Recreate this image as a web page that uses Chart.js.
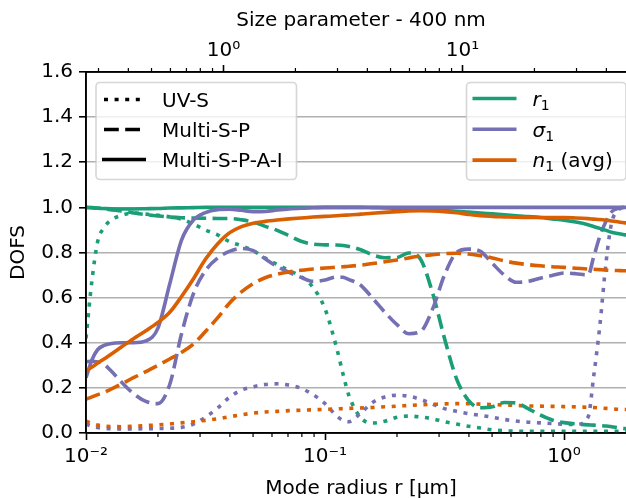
<!DOCTYPE html>
<html>
<head>
<meta charset="utf-8">
<script src="https://cdn.jsdelivr.net/npm/chart.js@4.4.1/dist/chart.umd.min.js"></script>
<style>
html,body{margin:0;padding:0;overflow:hidden;background:#fff;width:626px;height:498px}
#wrap{width:626px;height:498px;overflow:hidden;position:relative}
canvas{display:block}
</style>
</head>
<body>
<div id="wrap"><canvas id="c" width="636" height="498"></canvas></div>
<script>
// ---- data ----
const radius = [0.01,0.0106,0.0112,0.0119,0.0126,0.0141,0.0158,0.0178,0.02,0.0224,
  0.0251,0.0282,0.0316,0.0355,0.0398,0.0447,0.0501,0.0562,0.0631,0.0708,
  0.0794,0.0891,0.1,0.112,0.119,0.126,0.141,0.158,0.178,0.2,
  0.224,0.251,0.282,0.316,0.355,0.398,0.447,0.501,0.562,0.631,
  0.708,0.794,0.891,1.0,1.12,1.26,1.33,1.41,1.5,1.58,
  1.68,1.78,1.82];

// UV-S (dotted)
const uvR1 = [0.42,0.68,0.85,0.91,0.94,0.965,0.975,0.97,0.965,0.958,
  0.948,0.925,0.9,0.878,0.848,0.83,0.808,0.775,0.747,0.72,
  0.693,0.645,0.55,0.375,0.26,0.165,0.068,0.044,0.052,0.07,
  0.075,0.071,0.063,0.05,0.04,0.03,0.022,0.014,0.01,0.008,
  0.007,0.007,0.007,0.007,0.007,0.008,0.008,0.008,0.008,0.008,
  0.008,0.008,0.008];
const uvSig = [0.04,0.03,0.024,0.021,0.019,0.018,0.018,0.019,0.02,0.021,
  0.025,0.04,0.07,0.11,0.158,0.19,0.205,0.215,0.218,0.212,
  0.198,0.17,0.13,0.075,0.056,0.05,0.088,0.135,0.16,0.167,
  0.163,0.149,0.128,0.108,0.096,0.086,0.078,0.07,0.06,0.053,
  0.048,0.045,0.042,0.039,0.038,0.07,0.25,0.47,0.76,0.93,
  0.985,1.0,1.0];
const uvN = [0.052,0.042,0.035,0.031,0.029,0.028,0.03,0.033,0.036,0.04,
  0.045,0.05,0.056,0.063,0.072,0.081,0.088,0.093,0.096,0.099,
  0.101,0.103,0.105,0.107,0.108,0.109,0.111,0.113,0.116,0.119,
  0.122,0.125,0.127,0.129,0.13,0.13,0.128,0.126,0.124,0.122,
  0.12,0.119,0.118,0.117,0.116,0.114,0.113,0.111,0.109,0.107,
  0.105,0.104,0.104];

// Multi-S-P (dashed)
const mspR1 = [1.0,0.999,0.997,0.994,0.99,0.984,0.975,0.968,0.962,0.957,
  0.954,0.953,0.952,0.951,0.951,0.945,0.935,0.916,0.898,0.874,
  0.85,0.837,0.834,0.833,0.831,0.827,0.812,0.79,0.777,0.778,
  0.798,0.77,0.62,0.42,0.24,0.145,0.112,0.116,0.135,0.133,
  0.108,0.08,0.058,0.046,0.04,0.036,0.035,0.033,0.031,0.028,
  0.024,0.02,0.019];
const mspSig = [0.316,0.318,0.315,0.305,0.28,0.225,0.175,0.14,0.13,0.215,
  0.44,0.62,0.72,0.775,0.805,0.818,0.808,0.772,0.738,0.712,
  0.69,0.672,0.678,0.692,0.69,0.68,0.655,0.598,0.535,0.48,
  0.44,0.45,0.55,0.7,0.8,0.815,0.805,0.752,0.7,0.668,
  0.672,0.686,0.698,0.709,0.706,0.7,0.78,0.87,0.94,0.98,
  0.995,1.0,1.0];
const mspN = [0.15,0.16,0.17,0.18,0.192,0.218,0.245,0.272,0.3,0.328,
  0.357,0.395,0.45,0.51,0.575,0.625,0.662,0.688,0.704,0.714,
  0.721,0.727,0.731,0.735,0.737,0.739,0.744,0.751,0.759,0.767,
  0.776,0.784,0.79,0.795,0.797,0.793,0.786,0.776,0.763,0.753,
  0.746,0.741,0.737,0.734,0.73,0.727,0.726,0.724,0.722,0.721,
  0.72,0.719,0.719];

// Multi-S-P-A-I (solid)
const allR1 = [1.0,0.998,0.996,0.995,0.994,0.993,0.993,0.994,0.995,0.997,
  0.998,0.999,1.0,1.0,1.0,1.0,1.0,1.0,1.0,1.0,
  1.0,1.0,1.0,1.0,1.0,1.0,1.0,0.999,0.998,0.996,
  0.994,0.992,0.989,0.986,0.983,0.979,0.975,0.971,0.967,0.963,
  0.959,0.955,0.949,0.943,0.935,0.923,0.915,0.907,0.898,0.89,
  0.884,0.879,0.878];
const allSig = [0.245,0.325,0.37,0.388,0.396,0.4,0.4,0.408,0.465,0.66,
  0.855,0.945,0.977,0.99,0.992,0.987,0.981,0.982,0.988,0.993,
  0.996,0.998,1.0,1.0,1.0,1.0,1.0,1.0,1.0,1.0,
  1.0,1.0,1.0,1.0,1.0,1.0,1.0,1.0,1.0,1.0,
  1.0,1.0,1.0,1.0,1.0,1.0,1.0,1.0,1.0,1.0,
  1.0,1.0,1.0];
const allN = [0.275,0.292,0.31,0.328,0.346,0.382,0.418,0.453,0.49,0.535,
  0.605,0.685,0.77,0.838,0.887,0.915,0.93,0.938,0.944,0.949,
  0.953,0.957,0.96,0.963,0.965,0.966,0.97,0.974,0.978,0.981,
  0.984,0.985,0.984,0.981,0.976,0.969,0.963,0.96,0.958,0.956,
  0.955,0.955,0.955,0.955,0.953,0.95,0.948,0.946,0.943,0.94,
  0.936,0.932,0.931];

// axes
const xMajorTicks = [0.01, 0.1, 1];
const xTickLabels = ['10\u207B\u00B2', '10\u207B\u00B9', '10\u2070'];
const xMinorTicks = [0.02,0.03,0.04,0.05,0.06,0.07,0.08,0.09,0.2,0.3,0.4,0.5,0.6,0.7,0.8,0.9];
const topMajorTicks = [1, 10];
const topTickLabels = ['10\u2070', '10\u00B9'];
const topMinorTicks = [0.3,0.4,0.5,0.6,0.7,0.8,0.9,2,3,4,5,6,7,8,9,20,30,40,50];
const sizeParamPerRadius = 26.6;   // top axis factor (size parameter per µm)
const methodLabels = ['UV-S', 'Multi-S-P', 'Multi-S-P-A-I'];

// ---- styles ----
const GREEN = '#1b9e77', PURPLE = '#7570b3', ORANGE = '#d95f02';
const LW = 3.6;
const DOT = [4, 6.6], DASH = [14.8, 6.4], SOLID = [];
const FONT = '"DejaVu Sans", sans-serif';
Chart.defaults.font.family = FONT;
Chart.defaults.color = '#000';

const defs = [
  {label: 'r\u2081 UV-S', data: uvR1, color: GREEN, dash: DOT},
  {label: '\u03C3\u2081 UV-S', data: uvSig, color: PURPLE, dash: DOT},
  {label: 'n\u2081 (avg) UV-S', data: uvN, color: ORANGE, dash: DOT},
  {label: 'r\u2081 Multi-S-P', data: mspR1, color: GREEN, dash: DASH},
  {label: '\u03C3\u2081 Multi-S-P', data: mspSig, color: PURPLE, dash: DASH},
  {label: 'n\u2081 (avg) Multi-S-P', data: mspN, color: ORANGE, dash: DASH},
  {label: 'r\u2081 Multi-S-P-A-I', data: allR1, color: GREEN, dash: SOLID},
  {label: '\u03C3\u2081 Multi-S-P-A-I', data: allSig, color: PURPLE, dash: SOLID},
  {label: 'n\u2081 (avg) Multi-S-P-A-I', data: allN, color: ORANGE, dash: SOLID}
];

function makeTicks(major, minor) {
  return major.map(v => ({value: v, major: true}))
    .concat(minor.map(v => ({value: v, major: false})))
    .sort((a, b) => a.value - b.value);
}
function labelFrom(majors, labels) {
  return (v, i, t) => {
    if (!t[i] || !t[i].major) return '';
    const k = majors.findIndex(m => Math.abs(m - v) < 1e-9 * Math.max(1, m));
    return k >= 0 ? labels[k] : '';
  };
}
const tickColorFn = c => (c.tick && c.tick.major) ? '#000' : 'rgba(0,0,0,0)';

// minor ticks + spines above data
const axisPlugin = {
  id: 'axisPlugin',
  afterDatasetsDraw(chart) {
    const ctx = chart.ctx, a = chart.chartArea;
    ctx.save();
    ctx.strokeStyle = '#000';
    ctx.lineWidth = 1.2;
    const xs = chart.scales.x, xt = chart.scales.xTop;
    ctx.beginPath();
    xMinorTicks.forEach(v => {
      const p = xs.getPixelForValue(v);
      if (p >= a.left && p <= a.right) { ctx.moveTo(p, a.bottom); ctx.lineTo(p, a.bottom + 4); }
    });
    topMinorTicks.forEach(v => {
      const p = xt.getPixelForValue(v);
      if (p >= a.left && p <= a.right) { ctx.moveTo(p, a.top); ctx.lineTo(p, a.top - 4); }
    });
    ctx.stroke();
    ctx.lineWidth = 1.6;
    ctx.beginPath();
    ctx.moveTo(a.left, a.top); ctx.lineTo(a.right, a.top);
    ctx.moveTo(a.left, a.bottom); ctx.lineTo(a.right, a.bottom);
    ctx.moveTo(a.left, a.top); ctx.lineTo(a.left, a.bottom);
    ctx.stroke();
    ctx.restore();
  }
};

function richText(ctx, parts, x, y) {
  let cx = x;
  parts.forEach(p => {
    if (p.sub) {
      ctx.font = '14px ' + FONT;
      ctx.fillText(p.t, cx, y + 4);
    } else {
      ctx.font = (p.it ? 'italic ' : '') + '20px ' + FONT;
      ctx.fillText(p.t, cx, y);
    }
    cx += ctx.measureText(p.t).width;
  });
}
function legendBox(ctx, x, y, w, h) {
  ctx.beginPath();
  ctx.roundRect(x, y, w, h, 4);
  ctx.fillStyle = 'rgba(255,255,255,0.8)';
  ctx.fill();
  ctx.strokeStyle = 'rgba(204,204,204,0.8)';
  ctx.lineWidth = 1.6;
  ctx.stroke();
}
const paramLegend = [
  {parts: [{t: 'r', it: true}, {t: '1', sub: true}], color: GREEN},
  {parts: [{t: '\u03C3', it: true}, {t: '1', sub: true}], color: PURPLE},
  {parts: [{t: 'n', it: true}, {t: '1', sub: true}, {t: ' (avg)'}], color: ORANGE}
];
const methodDash = [DOT, DASH, SOLID];

const legendPlugin = {
  id: 'legendPlugin',
  afterDraw(chart) {
    const ctx = chart.ctx, a = chart.chartArea;
    ctx.save();
    // left legend (methods)
    const lx = a.left + 10, ly = a.top + 10.5;
    legendBox(ctx, lx, ly, 200.5, 97);
    methodLabels.forEach((m, i) => {
      const y = ly + 17 + i * 30;
      ctx.beginPath();
      ctx.setLineDash(methodDash[i]);
      ctx.lineCap = 'butt';
      ctx.strokeStyle = '#000';
      ctx.lineWidth = LW;
      const x0 = lx + 8, x1 = lx + 48;
      if (i === 2) { ctx.moveTo(x0 - 2, y); ctx.lineTo(x1 + 2, y); }
      else { ctx.moveTo(x0, y); ctx.lineTo(x1, y); }
      ctx.stroke();
      ctx.setLineDash([]);
      ctx.fillStyle = '#000';
      ctx.textBaseline = 'alphabetic';
      ctx.font = '20px ' + FONT;
      ctx.fillText(m, lx + 66, y + 7.3);
    });
    // right legend (parameters)
    const rw = 159.5, rx = a.right - 10 - rw, ry = a.top + 10.5;
    legendBox(ctx, rx, ry, rw, 97.5);
    paramLegend.forEach((p, i) => {
      const y = ry + 16 + i * 30.8;
      ctx.beginPath();
      ctx.setLineDash([]);
      ctx.strokeStyle = p.color;
      ctx.lineWidth = LW;
      ctx.moveTo(rx + 6, y); ctx.lineTo(rx + 50, y);
      ctx.stroke();
      ctx.fillStyle = '#000';
      ctx.textBaseline = 'alphabetic';
      richText(ctx, p.parts, rx + 66, y + 7.3);
    });
    ctx.restore();
  }
};

new Chart(document.getElementById('c'), {
  type: 'line',
  data: {
    datasets: defs.map((d, i) => ({
      label: d.label,
      data: radius.map((r, j) => ({x: r, y: d.data[j]})),
      borderColor: d.color,
      backgroundColor: d.color,
      borderWidth: LW,
      borderDash: d.dash,
      borderCapStyle: 'butt',
      borderJoinStyle: 'round',
      pointRadius: 0,
      pointHoverRadius: 0,
      fill: false,
      cubicInterpolationMode: 'monotone',
      clip: 0,
      order: -i
    }))
  },
  options: {
    responsive: false,
    devicePixelRatio: 1,
    animation: false,
    events: [],
    layout: {padding: 0},
    plugins: {legend: {display: false}, tooltip: {enabled: false}},
    scales: {
      x: {
        type: 'logarithmic', position: 'bottom', min: 0.01, max: 2,
        afterBuildTicks: s => { s.ticks = makeTicks(xMajorTicks, []); },
        afterFit: s => { s.height = 65; },
        ticks: {autoSkip: false, maxRotation: 0, padding: 5, color: '#000',
          font: {family: FONT, size: 20}, callback: labelFrom(xMajorTicks, xTickLabels)},
        grid: {display: true, drawOnChartArea: false, drawTicks: true, tickLength: 7,
          tickWidth: 1.6, tickColor: tickColorFn},
        border: {display: true, color: '#000', width: 1.6},
        title: {display: true, text: 'Mode radius r [\u00B5m]', color: '#000',
          font: {family: FONT, size: 20}, padding: {top: 0, bottom: -3}}
      },
      xTop: {
        type: 'logarithmic', position: 'top',
        min: 0.01 * sizeParamPerRadius, max: 2 * sizeParamPerRadius,
        afterBuildTicks: s => { s.ticks = makeTicks(topMajorTicks, []); },
        afterFit: s => { s.height = 72; },
        ticks: {autoSkip: false, maxRotation: 0, padding: 2, color: '#000',
          font: {family: FONT, size: 20}, callback: labelFrom(topMajorTicks, topTickLabels)},
        grid: {display: true, drawOnChartArea: false, drawTicks: true, tickLength: 7,
          tickWidth: 1.6, tickColor: tickColorFn},
        border: {display: true, color: '#000', width: 1.6},
        title: {display: true, text: 'Size parameter - 400 nm', color: '#000',
          font: {family: FONT, size: 20}, padding: {top: 9, bottom: 0}}
      },
      y: {
        type: 'linear', position: 'left', min: 0, max: 1.6,
        afterFit: s => { s.width = 86; },
        ticks: {stepSize: 0.2, padding: 6, color: '#000', font: {family: FONT, size: 20},
          callback: v => Number(v).toFixed(1)},
        grid: {color: '#b0b0b0', lineWidth: 1.6, drawTicks: true, tickLength: 7,
          tickWidth: 1.6, tickColor: '#000'},
        border: {display: true, color: '#000', width: 1.6},
        title: {display: true, text: 'DOFS', color: '#000',
          font: {family: FONT, size: 20}, padding: {top: 7, bottom: 0}}
      }
    }
  },
  plugins: [axisPlugin, legendPlugin]
});
</script>
</body>
</html>
